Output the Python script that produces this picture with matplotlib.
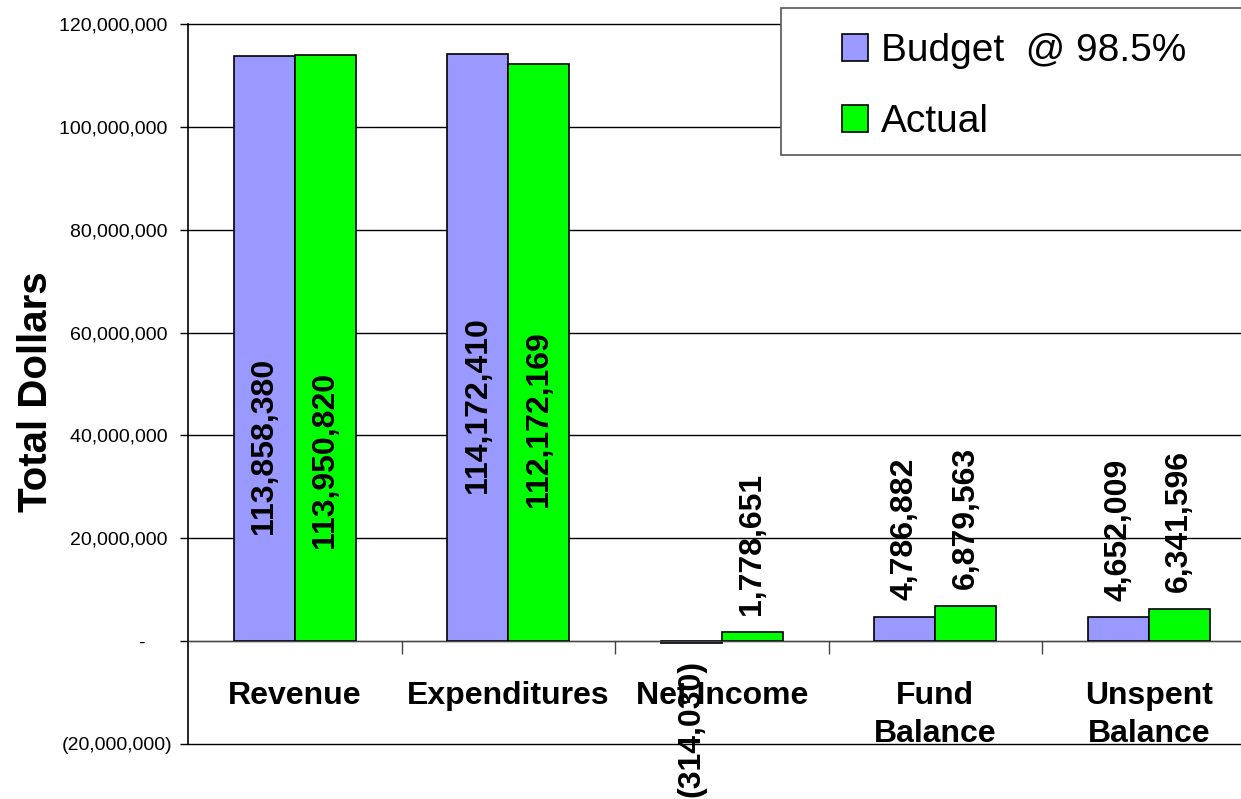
import numpy as np
import matplotlib
matplotlib.use('Agg')
import matplotlib.pyplot as plt
from matplotlib.patches import Rectangle
from matplotlib.ticker import FuncFormatter

plt.rcParams['font.family'] = ['Liberation Sans', 'DejaVu Sans']

categories = ['Revenue', 'Expenditures', 'Net Income', 'Fund\nBalance', 'Unspent\nBalance']
budget = [113858380, 114172410, -314030, 4786882, 4652009]
actual = [113950820, 112172169, 1778651, 6879563, 6341596]

blue = '#9999ff'
green = '#00ff00'


def money(v):
    # accounting style: dash for zero, parentheses for negatives
    if v == 0:
        return '-     '
    if v < 0:
        return '(%s)' % format(int(round(-v)), ',')
    return format(int(round(v)), ',') + ' '


fig = plt.figure(figsize=(12.41, 7.99), dpi=100)
ax = fig.add_axes([188 / 1241, 55 / 799, 1067.5 / 1241, 720 / 799])

x = np.arange(len(categories))
w = 0.286
b1 = ax.bar(x - w / 2, budget, w, color=blue, edgecolor='black', linewidth=1.2, zorder=2)
b2 = ax.bar(x + w / 2, actual, w, color=green, edgecolor='black', linewidth=1.2, zorder=2)

ax.set_xlim(-0.5, len(categories) - 0.5)
ax.set_ylim(-20000000, 120000000)
ax.set_yticks(np.arange(-20000000, 120000001, 20000000))
ax.yaxis.set_major_formatter(FuncFormatter(lambda v, p: money(v)))
ax.tick_params(axis='y', direction='out', length=6, width=1, pad=5, labelsize=14)
ax.grid(axis='y', color='black', linewidth=1)
for gl in ax.get_ygridlines():
    gl.set_clip_on(False)
ax.set_axisbelow(True)

# category axis sits on the zero line
ax.spines['bottom'].set_position(('data', 0))
ax.spines['top'].set_visible(False)
ax.spines['right'].set_visible(False)
ax.spines['left'].set_linewidth(1.2)
ax.spines['bottom'].set_color('#444444')
ax.set_xticks(x[:-1] + 0.5)
ax.set_xticklabels([])
ax.tick_params(axis='x', which='major', direction='out', length=9, width=1, color='#444444')
ax.set_xticks(x, minor=True)
ax.set_xticklabels(categories, minor=True, fontsize=23, fontweight='bold', linespacing=1.35)
ax.tick_params(axis='x', which='minor', length=0, pad=29)

ax.set_ylabel('Total Dollars', fontsize=29, fontweight='bold')
ax.yaxis.set_label_coords(-0.125, 0.49)

# value labels, rotated; the tall bars carry theirs inside
inside_mid = {0: (38000000, 35300000), 1: (46000000, 43100000)}
for i in range(len(categories)):
    for j, (vals, dx) in enumerate(((budget, -w / 2), (actual, w / 2))):
        v = vals[i]
        if i in inside_mid:
            ax.text(i + dx, inside_mid[i][j], money(v).strip(), rotation=90,
                    ha='center', va='center', fontsize=23, fontweight='bold', zorder=5)
        else:
            ax.annotate(money(v).strip(), (i + dx, v), xytext=(0, 12 if v >= 0 else -12),
                        textcoords='offset points', rotation=90, ha='center',
                        va='bottom' if v >= 0 else 'top', fontsize=23,
                        fontweight='bold', zorder=5, annotation_clip=False)

fig.patches.append(Rectangle((781 / 1241, 1 - 155 / 799), 470 / 1241, 147 / 799,
                             transform=fig.transFigure, facecolor='white',
                             edgecolor='#555555', linewidth=1.2, zorder=10))
leg = fig.legend([b1, b2], ['Budget  @ 98.5%', 'Actual'], loc='upper left',
                 bbox_to_anchor=(842 / 1241, 1 - 33 / 799), frameon=False,
                 fontsize=28, handlelength=0.68, handleheight=0.68, handletextpad=0.33,
                 labelspacing=0.9, borderpad=0, borderaxespad=0)
leg.set_zorder(11)

fig.savefig('out.png', dpi=100)
